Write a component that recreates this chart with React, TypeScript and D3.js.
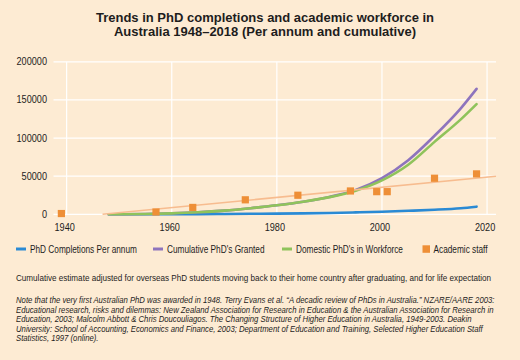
import React, { useLayoutEffect, useRef, useState } from "react";
import * as d3 from "d3";

const years = [1948, 1955, 1960, 1965, 1970, 1975, 1980, 1985, 1990, 1995, 2000, 2005, 2010, 2015, 2018];
const perAnnum = [0, 60, 120, 250, 450, 650, 850, 1200, 1700, 2500, 3400, 4600, 6000, 8000, 10000];
const cumulativeGranted = [0, 400, 1200, 2600, 4800, 8000, 11800, 16500, 22800, 32000, 47500, 71000, 103000, 139000, 164500];
const domesticWorkforce = [0, 400, 1200, 2600, 4800, 8000, 11800, 16500, 22500, 31000, 44500, 65000, 95000, 124500, 144500];

const staffYears = [1939, 1957, 1964, 1974, 1984, 1994, 1999, 2001, 2010, 2018];
const staffValues = [1000, 3000, 9000, 19000, 25000, 30600, 29700, 29700, 47300, 53000];

const xTicks = [1940, 1960, 1980, 2000, 2020];
const yTicks = [0, 50000, 100000, 150000, 200000];

const titleLines = [
  "Trends in PhD completions and academic workforce in",
  "Australia 1948\u20132018 (Per annum and cumulative)",
];
const legendLabels = ["PhD Completions Per annum", "Cumulative PhD's Granted", "Domestic PhD's in Workforce", "Academic staff"];
const legendColors = ["#2A8AD4", "#8E74BD", "#8FC35B", "#EE8F37"];
const legendKinds = ["line", "line", "line", "square"];
const footnote =
  "Cumulative estimate adjusted for overseas PhD students moving back to their home country after graduating, and for life expectation";
const notes = [
  "Note that the very first Australian PhD was awarded in 1948. Terry Evans et al. \u201CA decadic review of PhDs in Australia.\u201D NZARE/AARE 2003:",
  "Educational research, risks and dilemmas: New Zealand Association for Research in Education & the Australian Association for Research in",
  "Education, 2003; Malcolm Abbott & Chris Doucouliagos. The Changing Structure of Higher Education in Australia, 1949-2003. Deakin",
  "University: School of Accounting, Economics and Finance, 2003; Department of Education and Training, Selected Higher Education Staff",
  "Statistics, 1997 (online).",
];

const W = 520;
const H = 360;
const BG = "#FDEBD3";
const TEXT = "#1d1d1d";
const SANS = "'Liberation Sans', Arial, sans-serif";

function useFit(target: number, init: number) {
  const ref = useRef<SVGTextElement>(null);
  const [k, setK] = useState(init);
  useLayoutEffect(() => {
    const n = ref.current;
    if (n) {
      const l = n.getComputedTextLength();
      if (l > 0) setK(target / l);
    }
  }, [target]);
  return [ref, k] as const;
}

export default function App() {
  const x = d3.scaleLinear().domain([1937.5, 2021.7]).range([53.5, 496]);
  const y = d3.scaleLinear().domain([0, 200000]).range([214.3, 61.8]);

  const [tickRef, kTick] = useFit(30.5, 0.82);
  const [legRef, kLeg] = useFit(107, 0.82);
  const [footRef, kFoot] = useFit(475, 0.82);
  const [noteRef, kNote] = useFit(478, 0.82);

  const mkLine = (vals: number[]) =>
    d3
      .line<number>()
      .x((_, i) => x(years[i]))
      .y((v) => y(v))
      .curve(d3.curveMonotoneX)(vals) as string;

  // linear trendline for academic staff
  const n = staffYears.length;
  const mx = d3.mean(staffYears) as number;
  const my = d3.mean(staffValues) as number;
  let sxy = 0,
    sxx = 0;
  for (let i = 0; i < n; i++) {
    sxy += (staffYears[i] - mx) * (staffValues[i] - my);
    sxx += (staffYears[i] - mx) ** 2;
  }
  const slope = sxy / sxx;
  const intercept = my - slope * mx;
  const tStart = Math.max(x.domain()[0], -intercept / slope);
  const tEnd = x.domain()[1];

  const legendX = [16, 153, 282, 422.5];

  return (
    <svg width={W} height={H} style={{ position: "absolute", left: 0, top: 0, background: BG }}>
      <rect x={0} y={0} width={W} height={H} fill={BG} />
      {titleLines.map((t, i) => (
        <text key={i} x={265} y={22 + i * 14} textAnchor="middle" fontFamily={SANS} fontWeight="bold" fontSize={13} fill={TEXT}>
          {t}
        </text>
      ))}
      {/* gridlines */}
      {yTicks.map((t) => (
        <line key={"gy" + t} x1={x.range()[0]} x2={x.range()[1]} y1={y(t)} y2={y(t)} stroke="#fff" strokeWidth={1.2} />
      ))}
      {xTicks.map((t) => (
        <line key={"gx" + t} x1={x(t)} x2={x(t)} y1={y(200000)} y2={y(0)} stroke="#fff" strokeWidth={1.2} />
      ))}
      {yTicks.map((t, i) => (
        <text
          key={"ty" + t}
          ref={i === yTicks.length - 1 ? tickRef : undefined}
          transform={`translate(47,${y(t)}) scale(${kTick},1)`}
          dy="0.35em"
          textAnchor="end"
          fontFamily={SANS}
          fontSize={10}
          fill={TEXT}
        >
          {t}
        </text>
      ))}
      {xTicks.map((t) => (
        <text
          key={"tx" + t}
          transform={`translate(${x(t) - 2},231) scale(${kTick},1)`}
          textAnchor="middle"
          fontFamily={SANS}
          fontSize={10}
          fill={TEXT}
        >
          {t}
        </text>
      ))}
      {/* series */}
      <path d={mkLine(perAnnum)} fill="none" stroke="#2A8AD4" strokeWidth={2.6} strokeLinecap="round" />
      <path d={mkLine(cumulativeGranted)} fill="none" stroke="#8E74BD" strokeWidth={2.6} strokeLinecap="round" />
      <path d={mkLine(domesticWorkforce)} fill="none" stroke="#8FC35B" strokeWidth={2.6} strokeLinecap="round" />
      <line
        x1={x(tStart)}
        y1={y(intercept + slope * tStart)}
        x2={x(tEnd)}
        y2={y(intercept + slope * tEnd)}
        stroke="#F7BC8F"
        strokeWidth={1.6}
      />
      {staffYears.map((yr, i) => (
        <rect key={"s" + i} x={x(yr) - 3.6} y={y(staffValues[i]) - 3.6} width={7.2} height={7.2} fill="#EE8F37" />
      ))}
      {/* legend */}
      {legendLabels.map((label, i) => (
        <g key={"lg" + i} transform={`translate(${legendX[i]},249)`}>
          {legendKinds[i] === "line" ? (
            <line x1={0} x2={10} y1={0} y2={0} stroke={legendColors[i]} strokeWidth={3} />
          ) : (
            <rect x={0} y={-3.7} width={7.5} height={7.5} fill={legendColors[i]} />
          )}
          <text
            ref={i === 0 ? legRef : undefined}
            transform={`translate(${legendKinds[i] === "line" ? 14 : 11},0) scale(${kLeg},1)`}
            dy="0.35em"
            fontFamily={SANS}
            fontSize={10.5}
            fill={TEXT}
          >
            {label}
          </text>
        </g>
      ))}
      <text ref={footRef} transform={`translate(16,281) scale(${kFoot},1)`} fontFamily={SANS} fontSize={9.3} fill={TEXT}>
        {footnote}
      </text>
      {notes.map((t, i) => (
        <text
          key={"n" + i}
          ref={i === 1 ? noteRef : undefined}
          transform={`translate(16,${303 + i * 9.6}) scale(${kNote},1)`}
          fontFamily={SANS}
          fontStyle="italic"
          fontSize={9}
          fill={TEXT}
        >
          {t}
        </text>
      ))}
    </svg>
  );
}
